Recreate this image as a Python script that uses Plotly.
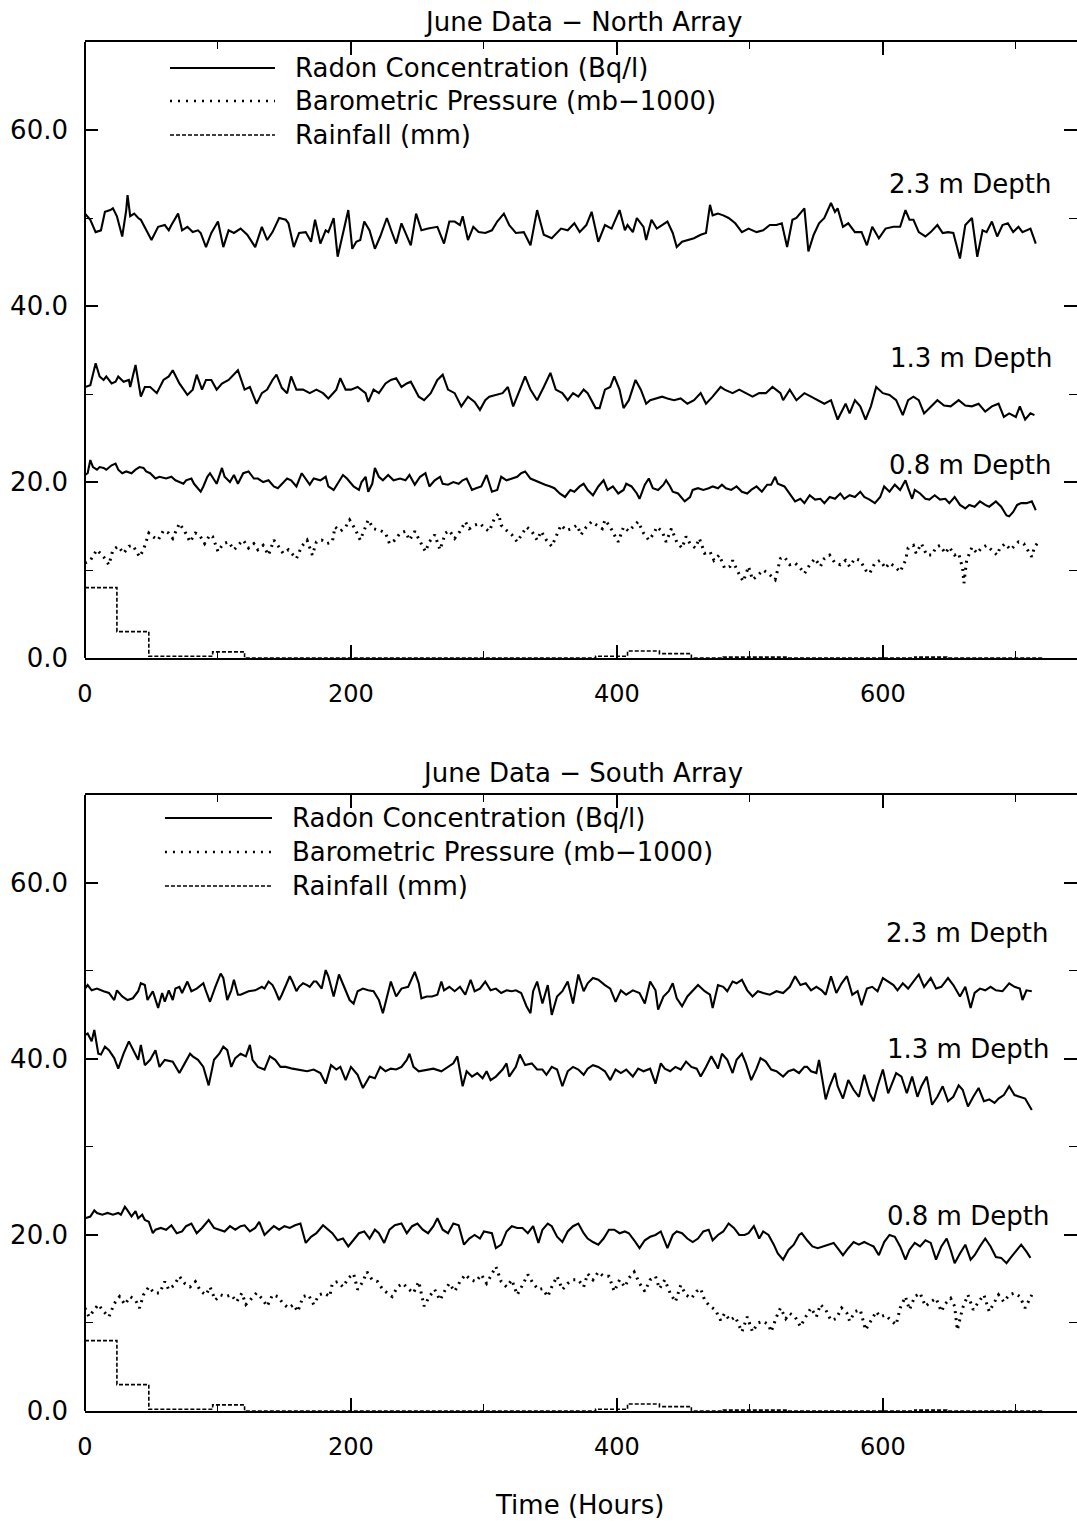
import plotly.graph_objects as go
from plotly.subplots import make_subplots

# June record, hourly.  Each series is a list of (hour, value) pairs.
# Radon concentration in Bq/l, barometric pressure in mb-1000, rainfall in mm.

NORTH_RADON_23M = [
    (0,50.5),(4,49.8),(8,48.4),(12,48.6),(15,50.7),(19,50.9),(21,51.1),(24,50.2),(28,47.9),(31,50.9),
    (32,52.6),(34,50.2),(37,50.5),(40,50.0),(42,49.8),(45,49.0),(50,47.5),(55,49.0),(60,49.2),(63,48.6),
    (65,49.2),(70,50.5),(73,48.6),(77,49.0),(81,48.4),(85,48.6),(87,48.3),(91,46.7),(95,48.3),(100,49.6),
    (104,46.7),(108,48.6),(112,48.3),(117,48.8),(122,48.1),(128,46.7),(133,49.0),(137,47.5),(141,48.4),(146,50.0),
    (151,49.8),(153,49.4),(157,46.7),(161,48.3),(166,48.4),(170,47.3),(173,49.8),(177,47.1),(181,48.6),(183,48.4),
    (187,50.0),(190,45.6),(194,48.3),(198,50.9),(201,46.5),(204,47.3),(207,47.5),(210,49.6),(214,48.6),(218,46.5),
    (222,47.9),(227,50.0),(231,48.3),(234,47.1),(238,49.4),(242,47.9),(245,46.9),(249,50.5),(253,48.6),(258,48.8),
    (265,49.0),(270,47.1),(274,49.6),(278,49.6),(282,49.2),(284,50.2),(288,47.5),(292,49.0),(296,48.4),(301,48.3),
    (306,48.6),(310,49.6),(315,50.5),(319,49.2),(324,48.3),(330,48.4),(335,46.9),(340,50.9),(345,48.1),(351,47.7),
    (358,48.8),(363,48.6),(368,49.4),(372,48.4),(377,49.2),(381,50.7),(386,47.3),(391,49.2),(396,48.8),(402,50.9),
    (406,48.6),(408,49.2),(412,48.4),(415,50.0),(420,49.0),(422,47.5),(426,49.8),(430,48.8),(434,49.2),(438,49.6),
    (442,48.3),(445,46.7),(449,47.3),(453,47.5),(458,47.7),(463,48.1),(467,48.3),(470,51.5),(472,50.3),(476,50.5),
    (480,50.3),(484,50.0),(489,49.4),(494,48.4),(499,48.8),(505,48.4),(510,48.6),(515,49.2),(520,49.2),(524,49.4),
    (528,46.7),(532,49.8),(535,50.0),(541,51.1),(544,46.2),(548,48.1),(552,49.4),(556,50.0),(561,51.7),(564,50.7),
    (566,51.1),(570,49.0),(574,49.4),(579,48.4),(584,48.4),(588,46.9),(592,49.0),(597,47.7),(602,48.8),(608,49.0),
    (613,49.0),(617,50.9),(620,49.8),(623,49.8),(627,48.4),(632,47.9),(636,48.4),(641,49.2),(645,48.3),(649,48.4),
    (653,48.3),(658,45.4),(662,49.2),(667,50.0),(671,45.6),(675,48.6),(678,48.4),(682,49.6),(686,47.9),(690,49.2),
    (694,49.4),(698,48.4),(702,49.0),(705,48.4),(711,48.8),(715,47.1),
]

NORTH_RADON_13M = [
    (0,30.8),(4,31.0),(8,33.5),(11,32.0),(14,31.6),(16,32.0),(20,31.2),(23,31.4),(25,32.0),(29,31.4),
    (33,31.6),(34,30.8),(38,33.3),(42,29.7),(45,30.8),(49,30.8),(54,30.1),(59,31.6),(63,32.0),(66,32.7),
    (71,31.2),(77,29.9),(81,30.5),(84,32.2),(88,30.5),(91,31.6),(95,31.6),(99,30.5),(103,31.2),(108,31.6),
    (115,32.7),(120,30.5),(124,30.8),(129,28.9),(133,30.1),(137,30.5),(141,31.6),(144,32.2),(148,30.7),(152,30.1),
    (155,32.0),(159,30.5),(164,30.5),(169,30.1),(174,30.5),(179,30.1),(183,29.5),(189,30.5),(192,31.8),(196,30.5),
    (200,30.5),(205,30.8),(211,30.1),(213,29.1),(217,30.5),(221,30.1),(226,31.2),(230,31.6),(234,31.8),(238,30.8),
    (242,31.2),(245,31.4),(251,29.7),(255,29.3),(260,30.1),(265,31.6),(269,32.2),(273,30.5),(278,30.1),(283,28.6),
    (288,29.7),(293,29.1),(297,28.2),(301,29.3),(304,29.7),(309,29.9),(314,30.1),(318,30.8),(322,28.6),(326,30.1),
    (331,32.0),(335,30.5),(340,29.3),(345,30.8),(350,32.4),(354,30.5),(359,30.1),(363,29.3),(367,30.1),(371,29.7),
    (375,30.5),(378,30.1),(384,28.4),(387,28.4),(391,30.5),(395,30.8),(398,32.0),(402,30.5),(405,28.4),(409,29.3),
    (414,31.6),(418,30.5),(422,28.9),(425,29.3),(429,29.5),(434,29.7),(438,29.5),(443,29.3),(448,29.5),(453,28.9),
    (458,29.3),(463,30.1),(467,28.9),(472,29.7),(478,30.8),(481,30.5),(487,30.1),(492,30.5),(497,30.1),(502,29.7),
    (507,30.1),(512,30.1),(517,30.8),(523,30.1),(525,29.3),(530,30.5),(535,29.3),(541,30.1),(546,29.7),(551,29.3),
    (556,28.9),(561,29.3),(566,27.1),(572,28.9),(575,27.8),(579,29.3),(583,28.6),(587,27.1),(591,28.6),(595,30.8),
    (600,30.1),(605,29.9),(610,29.3),(615,27.6),(619,29.3),(623,29.7),(627,29.3),(631,27.8),(636,28.6),(641,29.3),
    (646,28.7),(651,28.6),(657,29.3),(662,28.7),(667,28.6),(672,28.9),(677,28.0),(682,28.6),(687,28.9),(691,27.4),
    (695,27.8),(700,27.4),(703,28.6),(707,27.1),(711,27.8),(714,27.6),
]

NORTH_RADON_08M = [
    (0,20.8),(2,21.0),(4,22.5),(6,21.7),(9,21.4),(11,21.7),(14,21.6),(16,21.4),(20,21.9),(23,22.1),
    (25,21.4),(28,21.0),(31,21.2),(35,21.0),(38,21.4),(41,21.7),(44,21.6),(46,21.2),(49,21.0),(53,20.4),
    (56,20.6),(61,20.4),(65,20.6),(68,20.2),(71,20.0),(74,19.8),(76,20.2),(80,20.4),(82,19.8),(87,18.9),
    (89,19.5),(92,20.6),(94,21.0),(97,20.2),(99,19.8),(103,21.6),(105,20.6),(109,20.0),(112,20.8),(115,19.8),
    (119,21.0),(123,21.2),(127,20.4),(130,20.4),(134,20.0),(138,20.2),(142,19.5),(145,19.3),(148,19.8),(152,20.4),
    (155,20.2),(159,19.5),(163,21.0),(165,20.6),(169,19.7),(172,20.4),(177,20.2),(181,20.6),(183,19.5),(187,19.1),
    (191,20.0),(194,20.8),(197,20.4),(199,20.0),(202,19.5),(206,19.1),(208,20.0),(211,20.6),(213,18.9),(216,19.8),
    (218,21.6),(221,20.6),(224,20.2),(228,20.8),(232,20.2),(237,20.4),(241,20.2),(244,20.8),(248,19.7),(252,20.6),
    (256,21.0),(259,19.5),(263,20.2),(267,20.6),(269,19.8),(273,19.7),(277,20.0),(281,19.8),(284,20.2),(287,20.4),
    (291,19.1),(294,19.3),(298,19.5),(302,20.8),(306,18.9),(310,19.1),(313,20.6),(317,20.2),(321,20.4),(325,20.6),
    (328,21.0),(331,21.2),(335,20.4),(338,20.2),(342,20.0),(346,19.7),(350,19.5),(353,19.3),(357,18.7),(361,18.3),
    (365,19.1),(368,18.9),(372,19.5),(375,19.8),(378,19.1),(382,18.5),(386,19.5),(390,20.2),(393,19.1),(397,19.5),
    (401,18.7),(405,19.1),(407,19.8),(411,19.5),(415,18.7),(417,18.1),(421,19.7),(424,20.4),(427,19.3),(431,19.1),
    (435,19.7),(437,20.2),(440,19.5),(442,18.9),(446,18.7),(449,18.1),(451,17.8),(455,18.3),(457,19.1),(461,19.3),
    (465,19.1),(469,19.3),(472,19.5),(476,19.3),(479,19.7),(482,19.3),(486,19.1),(490,19.5),(494,18.9),(498,18.7),
    (501,19.1),(505,19.5),(509,18.9),(513,19.7),(516,19.7),(519,20.6),(521,19.8),(526,19.5),(530,18.7),(534,17.8),
    (538,18.1),(541,17.6),(545,18.5),(549,18.0),(553,18.1),(556,17.6),(560,18.3),(564,18.1),(568,18.7),(571,18.1),
    (575,18.5),(579,18.3),(583,18.9),(586,18.3),(590,18.0),(594,17.6),(598,18.3),(601,19.5),(605,18.9),(609,19.7),
    (613,19.1),(617,20.2),(619,19.3),(622,18.1),(624,19.1),(628,18.7),(632,18.1),(635,18.0),(639,18.5),(643,18.0),
    (647,18.1),(650,17.6),(654,18.3),(658,17.4),(662,17.0),(665,17.4),(669,17.2),(673,17.8),(677,17.4),(680,17.2),
    (685,17.8),(689,17.2),(693,16.2),(695,16.1),(698,16.6),(701,17.4),(704,17.6),(708,17.6),(712,17.8),(715,16.8),
]

NORTH_PRESSURE = [
    (0,10.8),(4,11.1),(9,12.3),(14,11.5),(18,10.6),(21,12.3),(25,12.7),(29,11.9),(33,12.7),(36,12.8),
    (41,11.5),(44,12.3),(48,14.2),(51,13.8),(55,13.4),(59,14.5),(63,14.2),(66,13.6),(71,15.3),(75,14.4),
    (79,13.2),(83,14.2),(86,14.0),(90,13.0),(94,14.0),(96,13.8),(100,12.1),(104,13.0),(108,13.2),(112,12.3),
    (115,12.8),(119,13.4),(123,12.5),(127,13.0),(130,12.3),(134,12.8),(138,11.7),(142,13.4),(145,12.8),(149,11.9),
    (153,12.3),(157,11.7),(159,11.3),(163,12.7),(167,13.4),(171,11.7),(174,13.2),(178,13.4),(182,13.0),(186,13.2),
    (188,14.9),(192,14.4),(196,14.9),(199,15.7),(203,14.7),(207,13.4),(211,14.9),(213,15.7),(217,14.7),(222,14.5),
    (226,14.2),(229,13.0),(233,13.4),(237,14.2),(241,14.4),(244,13.4),(248,14.4),(252,13.2),(256,12.1),(259,13.2),
    (263,14.0),(267,12.3),(271,14.2),(274,14.5),(278,13.6),(282,14.4),(286,15.5),(289,14.7),(293,15.1),(297,15.3),
    (301,14.7),(304,14.4),(308,15.9),(311,16.4),(313,15.1),(317,14.5),(321,14.0),(325,13.2),(328,14.0),(332,14.9),
    (336,14.4),(340,13.4),(343,14.4),(347,13.4),(351,12.7),(355,14.0),(358,15.1),(362,14.5),(366,14.7),(370,15.1),
    (373,14.0),(377,14.9),(381,15.5),(385,15.1),(389,14.7),(391,15.7),(395,14.9),(398,14.0),(401,13.2),(405,14.9),
    (409,14.4),(412,14.9),(416,15.5),(420,14.2),(424,13.4),(428,14.2),(430,14.9),(434,14.4),(437,13.2),(441,14.7),
    (445,13.2),(449,12.5),(452,13.8),(455,13.0),(459,12.5),(462,13.6),(466,11.9),(470,12.1),(473,11.1),(477,11.7),
    (481,10.2),(485,10.4),(487,11.1),(491,9.8),(495,8.7),(499,10.4),(502,8.9),(506,9.4),(510,10.0),(514,9.6),
    (519,8.9),(523,11.3),(526,11.5),(530,10.6),(534,10.8),(538,10.2),(541,9.6),(545,10.6),(549,11.3),(553,10.4),
    (556,11.3),(560,11.7),(564,10.8),(568,10.6),(572,11.1),(575,10.4),(579,11.3),(583,11.1),(587,10.0),(590,9.6),
    (594,10.8),(598,11.1),(602,10.2),(605,10.8),(609,10.4),(613,9.8),(617,11.1),(619,12.5),(623,12.8),(625,11.9),
    (629,13.0),(633,11.7),(637,11.7),(640,12.6),(643,12.8),(647,11.9),(650,12.6),(654,11.7),(657,11.9),(660,10.2),
    (661,8.5),(663,11.1),(667,12.6),(671,11.9),(674,12.5),(678,12.8),(682,12.3),(686,11.7),(688,12.5),(692,13.0),
    (696,12.3),(698,12.6),(702,13.2),(706,13.0),(709,12.3),(712,11.5),(714,12.6),(717,13.2),
]

SOUTH_RADON_23M = [
    (0,48.0),(2,48.4),(5,47.8),(9,48.0),(14,47.7),(18,47.5),(22,46.7),(24,47.8),(28,47.1),(32,46.7),
    (36,46.9),(40,47.7),(42,48.6),(45,48.4),(47,46.7),(51,47.7),(55,45.8),(58,47.5),(60,46.5),(63,47.8),
    (66,46.7),(68,48.0),(71,48.2),(73,47.5),(77,48.8),(80,47.7),(84,48.0),(89,48.6),(91,47.7),(94,46.5),
    (98,48.2),(102,49.7),(104,49.2),(107,46.7),(110,47.8),(112,49.0),(115,47.3),(117,47.3),(123,47.7),(128,47.8),
    (133,48.2),(135,48.0),(138,48.8),(141,48.4),(143,47.8),(146,46.7),(148,47.3),(154,49.4),(156,48.8),(159,47.7),
    (161,48.2),(164,48.6),(167,48.4),(169,48.2),(172,48.8),(174,48.8),(178,48.0),(181,50.1),(183,49.4),(187,47.1),
    (191,49.6),(195,48.2),(199,46.7),(202,46.3),(205,47.7),(209,48.0),(213,47.8),(217,47.7),(221,46.7),(224,45.2),
    (227,47.1),(230,48.8),(234,47.1),(238,48.0),(243,48.2),(248,49.9),(251,48.6),(253,46.9),(257,47.1),(261,47.1),
    (265,47.3),(268,48.8),(270,47.8),(274,48.2),(278,47.7),(282,48.2),(286,47.3),(290,49.0),(293,47.7),(297,48.0),
    (301,48.8),(305,47.8),(309,48.0),(313,47.5),(317,47.8),(321,47.7),(324,47.8),(328,47.5),(332,46.0),(335,45.2),
    (337,47.7),(340,48.8),(344,46.3),(348,48.4),(351,45.0),(355,47.1),(359,47.7),(363,48.8),(367,46.3),(371,49.6),
    (375,47.7),(378,48.6),(382,49.2),(386,49.0),(391,48.4),(395,48.0),(399,46.5),(403,47.8),(407,47.3),(412,47.8),
    (417,47.5),(421,46.3),(425,48.8),(429,47.8),(431,45.6),(435,47.1),(439,47.7),(442,48.6),(445,46.9),(449,46.0),
    (453,47.1),(457,47.8),(461,48.4),(466,47.7),(470,47.3),(472,45.8),(476,48.4),(480,48.2),(483,47.7),(487,48.8),
    (490,48.6),(494,49.0),(498,47.8),(502,47.1),(506,47.7),(510,47.5),(515,47.3),(520,47.7),(525,47.5),(530,48.2),
    (534,49.4),(538,48.4),(542,48.6),(546,47.8),(550,48.2),(554,47.8),(557,47.3),(561,49.4),(565,47.5),(569,48.6),
    (573,49.4),(577,47.3),(581,47.7),(584,46.1),(588,48.0),(592,48.2),(596,47.7),(600,49.2),(604,48.8),(608,48.4),
    (611,47.8),(615,48.6),(619,48.0),(623,48.8),(627,49.6),(631,48.2),(636,49.2),(640,48.0),(644,48.2),(649,49.2),
    (653,48.4),(658,47.1),(662,48.2),(666,45.8),(669,47.5),(673,48.0),(677,47.8),(681,48.2),(685,47.8),(690,47.7),
    (695,48.6),(699,48.2),(703,48.0),(705,46.7),(708,47.8),(712,47.7),
]

SOUTH_RADON_13M = [
    (0,42.7),(2,42.9),(5,42.0),(7,43.3),(10,40.6),(12,40.5),(15,41.4),(18,41.0),(22,40.1),(25,38.9),
    (29,40.6),(33,42.0),(37,40.8),(40,39.9),(42,41.6),(45,39.3),(49,39.9),(53,41.0),(56,39.1),(60,39.9),
    (66,39.7),(71,38.4),(75,39.5),(79,40.6),(81,40.3),(85,39.9),(89,39.1),(93,37.0),(97,39.9),(101,40.6),
    (104,41.4),(107,41.0),(110,39.1),(113,40.1),(117,40.6),(121,40.3),(124,41.6),(126,39.9),(130,39.1),(135,38.8),
    (139,40.3),(143,39.9),(147,39.1),(151,39.1),(156,38.9),(161,38.8),(167,38.6),(172,38.8),(177,38.4),(181,37.2),
    (185,39.3),(189,38.8),(192,39.1),(196,37.6),(200,39.1),(205,38.2),(209,36.7),(214,38.0),(218,37.8),(222,39.1),
    (226,38.6),(230,38.9),(234,38.8),(238,39.1),(242,39.9),(244,40.6),(247,39.1),(251,38.6),(257,38.8),(262,38.9),
    (268,38.6),(273,39.1),(277,39.5),(280,40.3),(284,36.9),(287,38.6),(291,38.0),(295,38.4),(299,37.8),(302,38.6),
    (305,37.6),(309,38.0),(314,38.8),(317,39.5),(319,38.0),(324,39.1),(327,40.5),(331,39.3),(336,39.5),(340,38.8),
    (344,38.8),(347,38.2),(351,39.1),(355,38.8),(359,36.9),(363,38.6),(367,39.1),(371,38.8),(375,38.2),(378,38.9),
    (382,39.3),(386,39.1),(391,38.6),(395,37.6),(399,38.8),(403,38.4),(407,38.8),(412,38.0),(416,38.9),(420,38.6),
    (425,38.9),(429,37.2),(433,39.5),(436,38.9),(440,38.6),(444,39.1),(448,38.8),(452,39.7),(456,39.1),(460,38.9),
    (463,38.0),(467,39.1),(471,40.3),(474,39.5),(476,38.9),(479,40.6),(483,39.9),(487,38.4),(490,39.9),(494,40.6),
    (497,39.5),(501,37.6),(505,38.9),(508,40.1),(512,39.7),(516,38.8),(520,38.6),(525,38.0),(529,38.6),(533,38.8),
    (537,38.4),(541,39.1),(543,39.1),(546,38.6),(550,38.4),(552,39.9),(555,36.9),(557,35.4),(560,36.9),(564,38.4),
    (566,36.9),(570,35.5),(574,37.6),(578,36.5),(582,35.7),(586,38.2),(590,36.1),(593,35.2),(596,36.9),(600,38.8),
    (604,36.1),(608,37.8),(610,38.4),(614,38.0),(618,36.1),(622,38.0),(626,35.7),(629,36.9),(633,38.0),(637,34.8),
    (641,35.7),(645,36.9),(649,35.2),(653,35.7),(657,37.0),(660,36.5),(664,34.6),(668,35.7),(672,36.7),(676,35.2),
    (680,35.4),(684,35.0),(687,35.5),(691,35.9),(695,36.9),(699,35.9),(703,35.7),(707,35.5),(712,34.2),
]

SOUTH_RADON_08M = [
    (0,21.9),(4,22.1),(7,22.8),(9,22.5),(13,22.3),(17,22.5),(21,22.3),(25,22.5),(27,22.3),(30,23.2),
    (32,22.8),(35,22.1),(38,22.7),(40,21.9),(43,22.3),(45,21.7),(48,21.5),(51,20.2),(53,20.6),(57,20.8),
    (61,20.6),(65,21.1),(69,20.2),(73,20.4),(76,21.0),(80,21.3),(84,20.2),(88,20.8),(93,21.7),(97,20.8),
    (101,20.6),(105,20.4),(109,21.0),(113,20.6),(117,21.0),(120,21.1),(124,20.4),(128,20.8),(131,21.5),(135,20.0),
    (139,20.6),(142,21.0),(146,20.6),(150,21.0),(154,20.8),(158,21.1),(162,21.3),(166,19.1),(170,19.8),(174,20.2),
    (179,21.1),(183,20.6),(186,20.2),(190,19.4),(194,19.6),(198,18.7),(202,19.4),(206,20.2),(210,20.4),(214,19.6),
    (218,20.6),(221,20.2),(225,19.1),(229,20.6),(233,21.1),(238,21.3),(242,20.2),(246,21.0),(250,21.3),(254,20.6),
    (258,20.2),(262,21.0),(265,21.9),(269,20.6),(273,20.2),(277,21.3),(281,21.1),(285,18.9),(289,19.6),(293,20.0),
    (297,19.6),(300,20.4),(306,20.2),(309,18.5),(313,18.9),(317,20.4),(321,21.0),(325,20.8),(329,20.8),(333,20.2),
    (337,21.0),(341,19.1),(344,20.6),(348,21.3),(351,21.0),(355,19.8),(359,19.2),(363,20.4),(367,21.0),(371,21.3),
    (375,20.2),(378,19.6),(382,19.2),(386,18.9),(390,19.6),(394,20.6),(398,20.6),(402,20.2),(406,20.4),(409,20.2),
    (413,19.4),(417,18.5),(421,19.4),(425,19.8),(429,20.0),(433,20.4),(438,18.5),(442,20.0),(445,20.4),(449,20.2),
    (453,19.6),(457,19.2),(461,19.6),(465,20.4),(469,20.6),(472,19.4),(476,20.0),(480,20.4),(484,21.3),(488,20.8),
    (492,20.0),(496,20.0),(499,20.2),(503,21.0),(507,19.6),(510,20.4),(514,20.0),(518,18.9),(521,17.9),(525,17.2),
    (529,18.3),(533,18.9),(537,20.0),(539,20.2),(543,19.4),(547,18.7),(551,18.5),(555,18.7),(559,18.9),(563,19.1),
    (566,18.5),(570,17.7),(574,18.5),(578,19.2),(582,18.9),(586,19.2),(590,18.9),(593,18.7),(597,17.7),(601,19.2),
    (605,20.0),(609,19.8),(613,18.7),(617,17.2),(620,18.3),(624,19.1),(628,18.7),(632,19.4),(636,19.1),(640,17.2),
    (644,18.7),(648,19.6),(651,18.3),(654,16.8),(658,17.9),(662,18.9),(666,17.2),(669,17.7),(673,18.7),(677,19.6),
    (681,18.7),(685,17.5),(689,17.4),(693,16.8),(696,17.4),(700,18.1),(704,18.9),(708,18.1),(711,17.4),
]

SOUTH_PRESSURE = [
    (0,11.7),(3,10.7),(6,11.3),(10,12.1),(14,11.3),(18,10.7),(22,12.2),(26,13.0),(30,12.1),(34,13.0),
    (38,12.6),(41,11.7),(44,13.2),(48,14.1),(52,13.4),(56,13.4),(60,14.7),(63,13.8),(67,14.3),(71,15.3),
    (75,14.5),(79,14.1),(83,14.7),(87,13.6),(91,13.2),(94,14.1),(98,12.6),(102,13.2),(106,13.0),(110,13.2),
    (114,12.4),(118,13.4),(121,12.1),(125,12.8),(129,13.4),(133,12.8),(137,11.9),(141,13.2),(145,13.0),(149,12.2),
    (153,11.7),(157,12.1),(160,11.3),(164,13.0),(168,13.2),(172,12.1),(176,13.2),(180,13.4),(184,13.0),(186,14.5),
    (190,14.7),(194,14.1),(198,15.1),(202,15.6),(205,13.8),(209,14.7),(212,15.8),(216,14.9),(220,14.7),(224,13.8),
    (228,13.4),(231,13.0),(235,14.1),(239,14.5),(243,13.9),(247,13.4),(251,14.7),(255,11.9),(259,13.0),(263,13.8),
    (267,12.6),(271,13.8),(274,14.5),(278,13.6),(282,14.7),(286,15.5),(290,14.9),(294,14.7),(298,15.5),(302,14.5),
    (305,15.3),(309,16.4),(313,14.7),(317,14.1),(321,14.9),(325,13.2),(329,14.3),(333,15.5),(337,14.5),(341,13.8),
    (344,13.9),(348,13.0),(351,14.1),(355,15.3),(359,13.8),(363,14.5),(367,14.9),(371,14.9),(375,14.1),(378,15.6),
    (382,14.9),(386,15.8),(390,15.3),(394,15.3),(398,13.6),(402,14.9),(406,14.1),(409,15.1),(413,15.8),(417,14.5),
    (421,13.6),(425,14.9),(429,15.3),(432,13.9),(436,14.9),(440,13.4),(444,12.4),(448,14.3),(452,13.2),(456,12.8),
    (460,13.6),(463,13.9),(466,12.6),(470,11.9),(474,11.5),(478,10.3),(481,11.1),(485,10.3),(489,10.7),(492,9.6),
    (494,9.0),(498,10.7),(502,9.0),(506,10.0),(510,10.2),(514,9.8),(516,9.0),(520,10.7),(523,11.7),(527,10.5),
    (530,11.1),(534,10.7),(538,9.6),(542,10.7),(546,11.7),(550,10.7),(553,12.1),(557,11.5),(561,10.3),(565,10.5),
    (569,11.7),(573,11.1),(575,10.2),(579,11.3),(583,11.5),(587,9.2),(591,10.3),(595,11.3),(598,10.7),(602,10.9),
    (606,10.3),(610,9.8),(613,11.7),(617,13.0),(620,11.5),(624,13.0),(628,13.4),(632,11.9),(636,12.4),(640,12.8),
    (644,11.3),(647,12.2),(651,12.8),(654,11.9),(656,9.2),(660,11.7),(664,13.2),(668,11.5),(672,12.4),(676,13.2),
    (680,11.3),(684,12.4),(687,13.2),(691,12.4),(695,13.2),(699,13.4),(703,13.0),(707,11.7),(712,13.2),
]

# Daily rainfall totals, one value per 24 h block (last entry closes the final block)
RAIN_DAY_START_H = [0, 24, 48, 72, 96, 120, 144, 168, 192, 216, 240, 264, 288, 312, 336, 360,
                    384, 408, 432, 456, 480, 504, 528, 552, 576, 600, 624, 648, 672, 696, 720]
RAIN_MM = [8.0, 3.0, 0.2, 0.2, 0.7, 0.0, 0.0, 0.0, 0.0, 0.0, 0.0, 0.0, 0.0, 0.0, 0.0, 0.0,
           0.2, 0.8, 0.5, 0.0, 0.1, 0.1, 0.0, 0.0, 0.0, 0.0, 0.1, 0.0, 0.0, 0.0, 0.0]

PANEL_TITLES = ["June Data \u2212 North Array", "June Data \u2212 South Array"]
DEPTH_LABELS = ["2.3 m Depth", "1.3 m Depth", "0.8 m Depth"]
LEGEND_LABELS = ["Radon Concentration (Bq/l)", "Barometric Pressure (mb\u22121000)", "Rainfall (mm)"]
X_TITLE = "Time (Hours)"

FONT = "DejaVu Sans"
INK = "black"
RADON_LINE = dict(color=INK, width=2.1)
PRESSURE_LINE = dict(color=INK, width=3, dash="2px,5px")
RAIN_LINE = dict(color=INK, width=1.6, dash="4px,2px")


def unzip(pairs):
    return [p[0] for p in pairs], [p[1] for p in pairs]


fig = make_subplots(rows=2, cols=1, vertical_spacing=0.1)

panels = [
    (1, [NORTH_RADON_23M, NORTH_RADON_13M, NORTH_RADON_08M], NORTH_PRESSURE),
    (2, [SOUTH_RADON_23M, SOUTH_RADON_13M, SOUTH_RADON_08M], SOUTH_PRESSURE),
]

for row, radon_sets, pressure in panels:
    for series, name in zip(radon_sets, DEPTH_LABELS):
        h, v = unzip(series)
        fig.add_trace(go.Scatter(x=h, y=v, mode="lines", line=RADON_LINE, name=name,
                                 showlegend=False), row=row, col=1)
    h, v = unzip(pressure)
    fig.add_trace(go.Scatter(x=h, y=v, mode="lines", line=PRESSURE_LINE, name="pressure",
                             showlegend=False), row=row, col=1)
    fig.add_trace(go.Scatter(x=RAIN_DAY_START_H, y=RAIN_MM, mode="lines", line=RAIN_LINE,
                             line_shape="hv", name="rain", showlegend=False), row=row, col=1)

x_tick_font = dict(family=FONT, size=24, color=INK)
y_tick_font = dict(family=FONT, size=26, color=INK)
for row in (1, 2):
    fig.update_xaxes(row=row, col=1, range=[0, 746], tickmode="linear", tick0=0, dtick=200,
                     ticks="inside", ticklen=13, tickwidth=1.6, tickcolor=INK,
                     minor=dict(ticks="inside", tick0=0, dtick=100, ticklen=7, tickwidth=1.4, tickcolor=INK),
                     showline=True, linecolor=INK, linewidth=2, mirror="ticks",
                     showgrid=False, zeroline=False, tickfont=x_tick_font, ticklabelstandoff=13)
    fig.update_yaxes(row=row, col=1, range=[0, 70], tickmode="linear", tick0=0, dtick=20,
                     tickformat=".1f",
                     ticks="inside", ticklen=13, tickwidth=1.6, tickcolor=INK,
                     minor=dict(ticks="inside", tick0=0, dtick=10, ticklen=8, tickwidth=1.4, tickcolor=INK),
                     showline=False, mirror="ticks",
                     showgrid=False, zeroline=False, tickfont=y_tick_font, ticklabelstandoff=16)

text_font = dict(family=FONT, size=26, color=INK)
annotations = []
shapes = []

# legend rows: line sample and label, placed in axis-domain units
legend_layout = {
    1: dict(x0=0.0857, x1=0.1915, xt=0.2097, ys=[0.9578, 0.9042, 0.8490]),
    2: dict(x0=0.0806, x1=0.1885, xt=0.2067, ys=[0.9627, 0.9075, 0.8523]),
}
label_layout = {
    1: dict(xs=[0.976, 0.977, 0.976], ys=[0.7695, 0.4870, 0.3133]),
    2: dict(xs=[0.973, 0.974, 0.974], ys=[0.7760, 0.5877, 0.3166]),
}
title_y = {1: 1.0325, 2: 1.0357}

for row in (1, 2):
    xd = "x domain" if row == 1 else "x2 domain"
    yd = "y domain" if row == 1 else "y2 domain"
    # left frame edge
    shapes.append(dict(type="line", xref=xd, yref=yd, x0=0, x1=0, y0=0, y1=1,
                       line=dict(color=INK, width=2)))
    lg = legend_layout[row]
    samples = [
        dict(color=INK, width=2.1),
        dict(color=INK, width=2.6, dash="2px,6px"),
        dict(color=INK, width=1.6, dash="4px,2px"),
    ]
    for style, label, yy in zip(samples, LEGEND_LABELS, lg["ys"]):
        shapes.append(dict(type="line", xref=xd, yref=yd, x0=lg["x0"], x1=lg["x1"], y0=yy, y1=yy,
                           line=style))
        annotations.append(dict(xref=xd, yref=yd, x=lg["xt"], y=yy, text=label, showarrow=False,
                                xanchor="left", yanchor="middle", font=text_font))
    ll = label_layout[row]
    for label, xx, yy in zip(DEPTH_LABELS, ll["xs"], ll["ys"]):
        annotations.append(dict(xref=xd, yref=yd, x=xx, y=yy, text=label, showarrow=False,
                                xanchor="right", yanchor="middle", font=text_font))
    annotations.append(dict(xref=xd, yref=yd, x=0.502, y=title_y[row], text=PANEL_TITLES[row - 1],
                            showarrow=False, xanchor="center", yanchor="middle", font=text_font))

annotations.append(dict(xref="x2 domain", yref="y2 domain", x=0.498, y=-0.1526, text=X_TITLE,
                        showarrow=False, xanchor="center", yanchor="middle", font=text_font))

fig.update_layout(
    width=1077, height=1523,
    margin=dict(l=85, r=0, t=42, b=112),
    paper_bgcolor="white", plot_bgcolor="white",
    showlegend=False,
    annotations=annotations, shapes=shapes,
    font=dict(family=FONT, color=INK),
)

fig.write_html("out.html")
